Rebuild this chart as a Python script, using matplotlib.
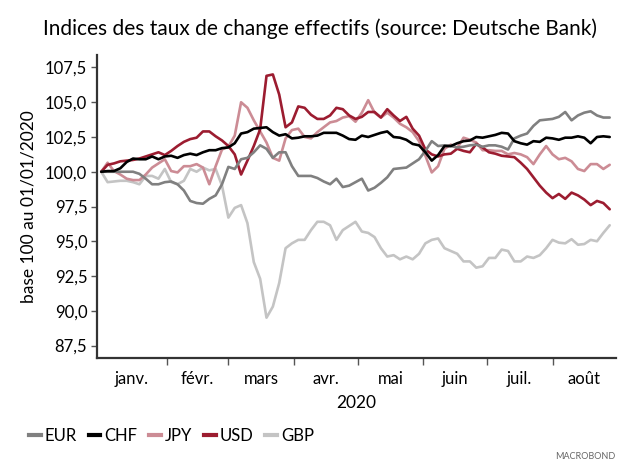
import numpy as np
import pandas as pd
import matplotlib
matplotlib.use("Agg")
import matplotlib.pyplot as plt
import matplotlib.dates as mdates
from matplotlib.ticker import FuncFormatter, FixedLocator
from matplotlib.lines import Line2D

plt.rcParams['font.family'] = ['Lato', 'DejaVu Sans']

# -----------------------------
# Data (one value every 3 days)
# -----------------------------
dates = pd.date_range("2020-01-01", "2020-08-28", freq="3D")

eur = [100.0, 100.0, 100.0, 100.0, 100.0, 100.0, 99.85, 99.5, 99.1, 99.1,
       99.25, 99.3, 99.1, 98.65, 97.9, 97.75, 97.7, 98.05, 98.3, 99.1,
       100.35, 100.2, 100.9, 101.0, 101.4, 101.9, 101.65, 101.0, 101.4, 101.4,
       100.4, 99.7, 99.7, 99.7, 99.55, 99.3, 99.1, 99.5, 98.9, 99.0,
       99.25, 99.5, 98.65, 98.85, 99.2, 99.6, 100.2, 100.25, 100.3, 100.6,
       100.9, 101.5, 102.2, 101.85, 101.9, 101.85, 101.75, 101.8, 101.9, 101.95,
       101.8, 101.9, 101.9, 101.8, 101.6, 102.4, 102.6, 102.75, 103.3, 103.7,
       103.75, 103.8, 103.95, 104.3, 103.7, 104.05, 104.25, 104.35, 104.05, 103.9,
       103.9]

chf = [100.0, 100.05, 100.05, 100.25, 100.7, 100.95, 100.9, 100.9, 101.1, 100.9,
       101.1, 101.15, 101.0, 101.2, 101.3, 101.2, 101.4, 101.55, 101.55, 101.7,
       101.75, 102.05, 102.75, 102.85, 103.1, 103.15, 103.2, 102.85, 102.6, 102.7,
       102.4, 102.45, 102.55, 102.55, 102.6, 102.8, 102.8, 102.8, 102.6, 102.35,
       102.3, 102.6, 102.5, 102.65, 102.8, 102.9, 102.5, 102.45, 102.3, 102.0,
       101.9, 101.4, 100.8, 101.2, 101.85, 101.85, 102.05, 102.2, 102.25, 102.5,
       102.45, 102.55, 102.65, 102.8, 102.75, 102.2, 102.05, 101.95, 102.2, 102.15,
       102.45, 102.4, 102.3, 102.45, 102.45, 102.55, 102.45, 102.05, 102.5, 102.55,
       102.5]

jpy = [100.0, 100.65, 100.05, 99.8, 99.5, 99.4, 99.4, 99.8, 100.3, 100.6,
       100.9, 100.05, 99.95, 100.4, 100.4, 100.55, 100.3, 99.1, 100.4, 101.6,
       101.8, 102.6, 105.0, 104.6, 103.7, 102.9, 102.1, 101.0, 100.8, 102.4,
       103.0, 103.1, 102.5, 102.4, 102.85, 103.2, 103.55, 103.65, 103.9, 104.0,
       103.6, 104.25, 105.15, 104.25, 103.9, 104.25, 103.9, 103.45, 103.2, 102.85,
       102.2, 101.15, 99.95, 100.4, 101.65, 101.95, 101.7, 102.45, 102.3, 102.1,
       101.55, 101.55, 101.5, 101.5, 101.25, 101.35, 101.25, 101.05, 100.55, 101.25,
       101.85, 101.25, 100.9, 101.0, 100.75, 100.2, 100.05, 100.55, 100.55, 100.2,
       100.5]

usd = [100.0, 100.5, 100.6, 100.75, 100.8, 100.85, 100.95, 101.1, 101.25, 101.4,
       101.2, 101.5, 101.85, 102.15, 102.35, 102.45, 102.9, 102.9, 102.55, 102.25,
       101.85, 101.25, 99.8, 100.8, 101.85, 103.05, 106.9, 107.0, 105.55, 103.2,
       103.55, 104.7, 104.6, 104.1, 103.8, 103.8, 104.05, 104.6, 104.5, 104.05,
       103.8, 103.95, 104.3, 104.3, 103.9, 104.5, 104.05, 103.65, 103.95, 103.1,
       102.6, 101.6, 101.25, 101.1, 101.25, 101.3, 101.65, 101.5, 101.4, 102.0,
       101.75, 101.4, 101.3, 101.15, 101.1, 101.05, 100.65, 100.2, 99.6, 99.0,
       98.5, 98.1, 98.4, 98.05, 98.5, 98.3, 98.0, 97.6, 97.9, 97.75,
       97.3]

gbp = [100.0, 99.25, 99.3, 99.35, 99.35, 99.25, 99.1, 99.7, 99.7, 99.5,
       100.2, 99.25, 99.1, 99.35, 100.2, 100.0, 100.3, 100.1, 100.2, 99.0,
       96.7, 97.4, 97.6, 96.3, 93.5, 92.3, 89.5, 90.3, 92.0, 94.5,
       94.85, 95.1, 95.1, 95.8, 96.4, 96.4, 96.15, 95.1, 95.8, 96.1,
       96.4, 95.7, 95.6, 95.3, 94.5, 93.9, 94.0, 93.7, 93.9, 93.7,
       94.1, 94.85, 95.1, 95.2, 94.5, 94.3, 94.1, 93.55, 93.55, 93.1,
       93.2, 93.8, 93.8, 94.4, 94.3, 93.55, 93.55, 93.9, 93.8, 94.0,
       94.5, 95.1, 94.9, 94.85, 95.15, 94.75, 94.8, 95.1, 95.0, 95.6,
       96.15]

names = ["EUR", "CHF", "JPY", "USD", "GBP"]
colors = {"EUR": "#808080", "CHF": "#000000", "JPY": "#cc8c95",
          "USD": "#9c1c30", "GBP": "#c4c4c4"}
series = {"EUR": eur, "CHF": chf, "JPY": jpy, "USD": usd, "GBP": gbp}

month_starts = pd.date_range("2020-01-01", "2020-08-01", freq="MS")
month_names = ["janv.", "févr.", "mars", "avr.", "mai", "juin", "juil.", "août"]

# -----------------------------
# Figure
# -----------------------------
fig = plt.figure(figsize=(6.4, 4.72), dpi=100)
ax = fig.add_axes([0.1516, 0.2415, 0.811, 0.642])

for name in ["GBP", "JPY", "USD", "EUR", "CHF"]:
    ax.plot(dates, series[name], color=colors[name], lw=1.9,
            solid_joinstyle="round", solid_capstyle="round")

x0 = pd.Timestamp("2019-12-30")
x1 = pd.Timestamp("2020-08-31")
ax.set_xlim(x0, x1)
ax.set_ylim(86.6, 108.4)

ax.set_yticks(np.arange(87.5, 108, 2.5))
ax.yaxis.set_major_formatter(FuncFormatter(lambda v, p: f"{v:.1f}".replace(".", ",")))
ax.tick_params(axis="y", direction="out", length=4, width=1, color="#555555",
               labelsize=12, pad=3)

# month boundaries as ticks, names centred in each visible month
ax.xaxis.set_major_locator(FixedLocator(mdates.date2num(month_starts[1:])))
ax.xaxis.set_major_formatter(FuncFormatter(lambda v, p: ""))
edges = [x0] + list(month_starts[1:]) + [x1]
centres = [mdates.date2num(edges[i]) / 2 + mdates.date2num(edges[i + 1]) / 2
           for i in range(len(month_names))]
ax.xaxis.set_minor_locator(FixedLocator(centres))
ax.xaxis.set_minor_formatter(FuncFormatter(lambda v, p: month_names[p] if p is not None and p < len(month_names) else ""))
ax.tick_params(axis="x", which="major", direction="out", length=5, width=1,
               color="#555555")
ax.tick_params(axis="x", which="minor", length=0, labelsize=12, pad=9)

for s in ["top", "right"]:
    ax.spines[s].set_visible(False)
for s in ["left", "bottom"]:
    ax.spines[s].set_linewidth(1.6)
    ax.spines[s].set_color("#333333")

ax.set_ylabel("base 100 au 01/01/2020", fontsize=12.5, labelpad=6)
ax.set_xlabel("2020", fontsize=12.5, labelpad=6)

fig.text(0.5, 0.94, "Indices des taux de change effectifs (source: Deutsche Bank)",
         ha="center", va="center", fontsize=15)

handles = [Line2D([0], [0], color=colors[n], lw=3) for n in names]
fig.legend(handles, names, loc="center left", bbox_to_anchor=(0.022, 0.077),
           ncol=5, frameon=False, handlelength=0.7, handletextpad=0.25,
           columnspacing=0.7, fontsize=12)

fig.text(0.962, 0.032, "MACROBOND", ha="right", va="center", fontsize=6.5,
         color="#666666")

fig.savefig("out.png", dpi=100)
